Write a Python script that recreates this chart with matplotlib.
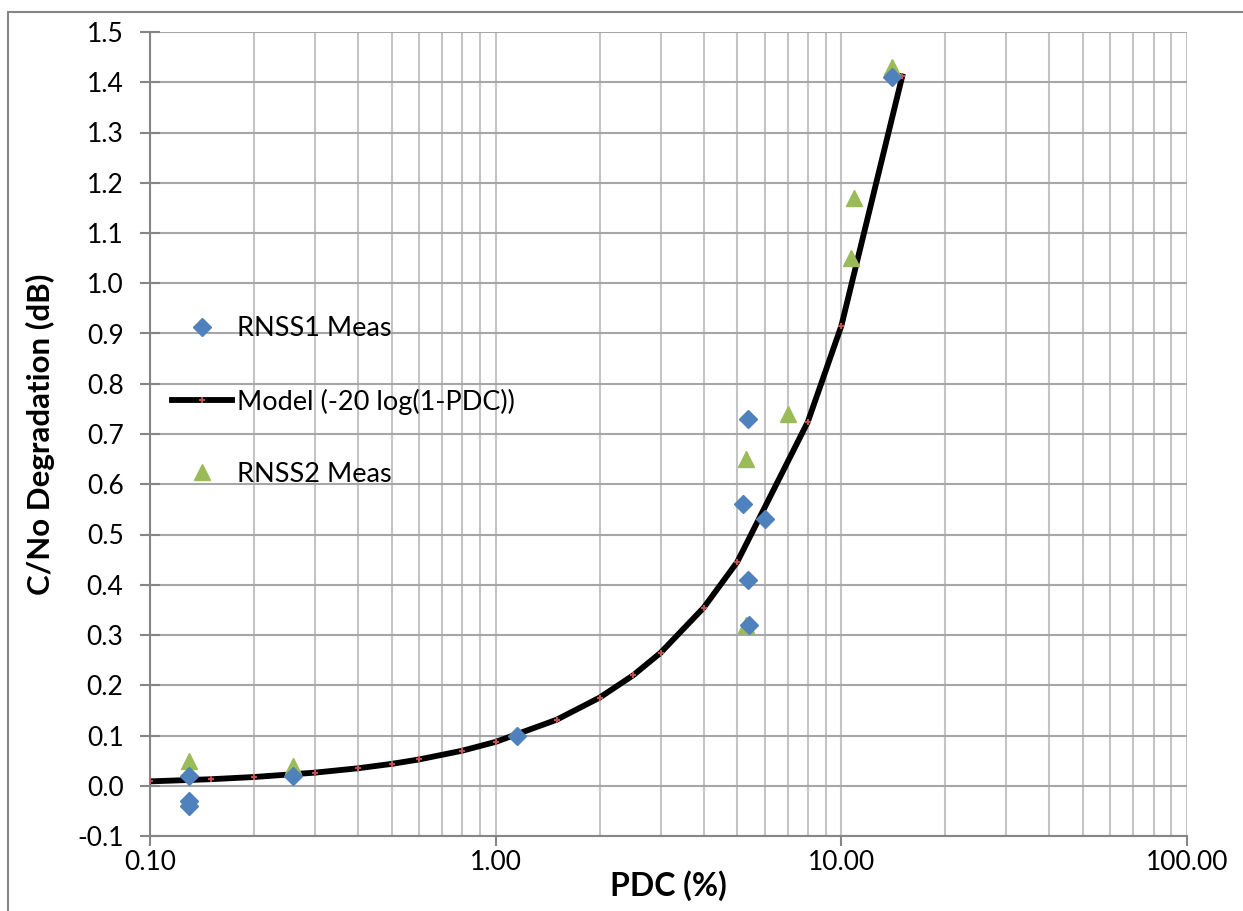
import numpy as np
import matplotlib
matplotlib.use("Agg")
import matplotlib.pyplot as plt
from matplotlib.ticker import FormatStrFormatter, LogLocator, MultipleLocator
from matplotlib.patches import Rectangle

plt.rcParams['font.family'] = ['Lato', 'DejaVu Sans']

# RNSS1 measurements (blue diamonds)
rnss1_pdc = [0.13, 0.13, 0.13, 0.26, 1.15, 5.19, 5.37, 5.37, 5.4, 6.0, 14.0]
rnss1_deg = [0.02, -0.03, -0.04, 0.02, 0.10, 0.56, 0.73, 0.41, 0.32, 0.53, 1.41]

# model -20 log(1-PDC)
model_pdc = [0.1, 0.15, 0.2, 0.3, 0.4, 0.5, 0.6, 0.8, 1.0, 1.5, 2.0, 2.5, 3.0, 4.0, 5.0, 8.0, 10.0, 15.0]
model_deg = [0.0087, 0.0130, 0.0174, 0.0261, 0.0348, 0.0435, 0.0523, 0.0697, 0.0873,
             0.1313, 0.1755, 0.2199, 0.2646, 0.3546, 0.4455, 0.7242, 0.9151, 1.4116]

# RNSS2 measurements (green triangles)
rnss2_pdc = [0.13, 0.26, 5.29, 5.29, 7.0, 10.7, 10.9, 14.0]
rnss2_deg = [0.05, 0.04, 0.65, 0.32, 0.74, 1.05, 1.17, 1.43]

fig = plt.figure(figsize=(12.43, 9.11), dpi=100)
ax = fig.add_axes([150/1243, 1-836/911, (1187-150)/1243, (836-32)/911])

ax.plot(rnss1_pdc, rnss1_deg, linestyle='none', marker='D', markersize=9.5,
        color='#4f81bd', label='RNSS1 Meas', zorder=5)
ax.plot(model_pdc, model_deg, color='black', linewidth=4.2, marker='+',
        markersize=4, markeredgewidth=1.5, markeredgecolor='#c0504d',
        label='Model (-20 log(1-PDC))', zorder=3)
ax.plot(rnss2_pdc, rnss2_deg, linestyle='none', marker='^', markersize=12,
        color='#9bbb59', label='RNSS2 Meas', zorder=4)

ax.set_xscale('log')
ax.set_xlim(0.1, 100)
ax.set_ylim(-0.1, 1.5)
ax.xaxis.set_major_formatter(FormatStrFormatter('%.2f'))
ax.xaxis.set_minor_locator(LogLocator(base=10, subs=np.arange(2, 10)))
ax.xaxis.set_minor_formatter(plt.NullFormatter())
ax.yaxis.set_major_locator(MultipleLocator(0.1))
ax.yaxis.set_major_formatter(FormatStrFormatter('%.1f'))

ax.grid(True, which='major', axis='y', color='#a6a6a6', linewidth=1.5)
ax.grid(True, which='both', axis='x', color='#c4c4c4', linewidth=1.5)
ax.set_axisbelow(True)

for s in ['top', 'right']:
    ax.spines[s].set_visible(False)
for s in ['left', 'bottom']:
    ax.spines[s].set_color('#868686')
    ax.spines[s].set_linewidth(1.5)

ax.tick_params(axis='y', which='major', direction='inout', length=14, width=1.5,
               color='#868686', labelsize=19, pad=12)
ax.tick_params(axis='x', which='major', direction='out', length=7, width=1.5,
               color='#868686', labelsize=19, pad=3)
ax.tick_params(axis='x', which='minor', length=0)

ax.set_xlabel('PDC (%)', fontsize=23, fontweight='bold')
ax.set_ylabel('C/No Degradation (dB)', fontsize=22.5, fontweight='bold')
ax.xaxis.set_label_coords(0.5, -0.043)
ax.yaxis.set_label_coords(-0.092, 0.5)

ax.legend(loc='upper left', bbox_to_anchor=(172/1243, 1-316/911),
          bbox_transform=fig.transFigure, frameon=False, fontsize=19.5,
          borderpad=0, borderaxespad=0, labelspacing=1.75,
          handlelength=2.2, handletextpad=0.2)

fig.patches.append(Rectangle((8/1243, -0.2), 1.5, 1.2 - 12/911, transform=fig.transFigure,
                             fill=False, edgecolor='#868686', linewidth=1.5))

fig.savefig('out.png', dpi=100)
